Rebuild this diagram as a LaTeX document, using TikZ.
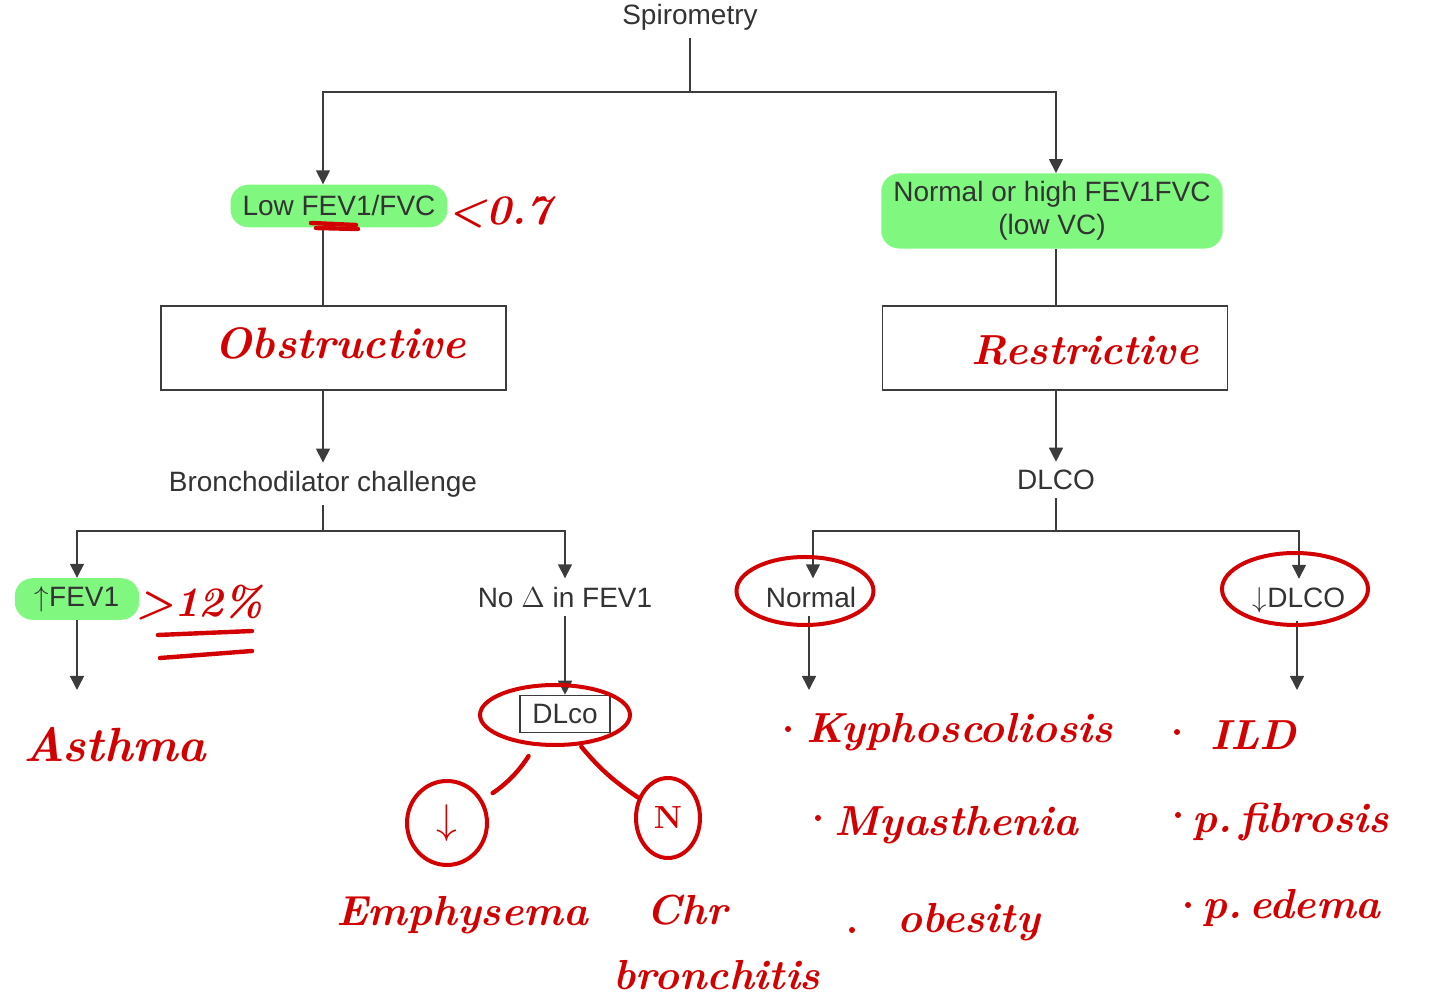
\documentclass[tikz,border=0pt]{standalone}
\usepackage{fontspec}
\usepackage{xcolor}
\usepackage{tikz}
\usetikzlibrary{arrows.meta,shapes.geometric}
\newfontfamily\diagfont{Liberation Sans}
\definecolor{hlgreen}{RGB}{128,248,128}
\definecolor{inkred}{RGB}{210,0,0}
\definecolor{linegray}{RGB}{60,60,60}

\begin{document}
\begin{tikzpicture}[x=0.5pt, y=-0.5pt,
  lbl/.style={font=\diagfont\fontsize{14}{16.5}\selectfont, text=black!80, inner sep=4pt, align=center},
  hl/.style={fill=hlgreen, rounded corners=9pt, inner xsep=6pt},
  ln/.style={draw=linegray, line width=0.8pt},
  arr/.style={ln, -{Triangle[width=7pt,length=7pt]}},
  box/.style={draw=linegray, line width=0.8pt, minimum width=172.5pt, minimum height=42pt},
  ink/.style={text=inkred, font=\bfseries\itshape\fontsize{21}{25}\selectfont, inner sep=0pt},
  ring/.style={draw=inkred, line width=2pt, ellipse, inner sep=0pt},
  stroke/.style={draw=inkred, line width=2.2pt, line cap=round},
  dot/.style={circle, fill=inkred, inner sep=0pt, minimum size=3pt}]
\useasboundingbox (0,0) rectangle (1442,1004);

% printed chart
\node[lbl] (spiro) at (690,17) {Spirometry};
\node[lbl, hl, inner ysep=5.5pt] (low) at (339,206) {Low FEV1/FVC};
\node[lbl, hl] (nh) at (1052,211) {Normal or high FEV1FVC\\(low VC)};
\node[box] (obs) at (333.5,348) {};
\node[box] (res) at (1055,348) {};
\node[lbl] (bron) at (323,484) {Bronchodilator challenge};
\node[lbl] (dlcor) at (1056,480) {DLCO};
\node[lbl, hl, inner xsep=10pt] (fev) at (77,599) {$\uparrow$FEV1};
\node[lbl] (nod) at (565,597) {No $\Delta$ in FEV1};
\node[lbl] (norm) at (811,597) {Normal};
\node[lbl] (ddl) at (1299,600) {$\downarrow$DLCO};
\node[lbl, draw=linegray, line width=0.8pt, minimum width=45pt, minimum height=18.5pt] (dlco) at (565,714) {DLco};

\coordinate (cL) at (323,92);
\coordinate (cR) at (1056,92);
\coordinate (bj) at (323,531);
\coordinate (dj) at (1056,531);
\coordinate (asthtip) at (77,690);
\coordinate (normtip) at (809,690);
\coordinate (ddltip) at (1297,690);

\draw[ln] (spiro) -- (spiro |- cL);
\draw[arr] (spiro |- cL) -| (cL |- low.north);
\draw[arr] (spiro |- cL) -| (cR |- nh.north);
\draw[ln] (cL |- low.south) -- (cL |- obs.north);
\draw[ln] (cR |- nh.south) -- (cR |- res.north);
\draw[arr] (cL |- obs.south) -- (bron);
\draw[arr] (cR |- res.south) -- (dlcor);
\draw[ln] (bron) -- (bj);
\draw[ln] (dlcor) -- (dj);
\draw[arr] (bj) -| (fev);
\draw[arr] (bj) -| (nod);
\draw[arr] (dj) -| ([xshift=1pt]norm.north);
\draw[arr] (dj) -| (ddl);
\draw[arr] (fev) -- (asthtip);
\draw[arr] (nod) -- (dlco);
\draw[arr] ([xshift=-1pt]norm.south) -- (normtip);
\draw[arr] ([xshift=-1pt]ddl.south) -- (ddltip);

% handwritten notes
\node[ink] (lt) at (500,212) {<0.7};
\draw[stroke] (311,223) -- (356,225);
\draw[stroke] (316,228) -- (358,229);
\node[ink, font=\bfseries\itshape\fontsize{22}{26}\selectfont] (obst) at (340,343) {Obstructive};
\node[ink] (rest) at (1085,350) {Restrictive};
\node[ink] (gt) at (200,603) {>12\%};
\draw[stroke] (158,635) -- (252,631);
\draw[stroke] (160,658) -- (252,651);
\node[ink, font=\bfseries\itshape\fontsize{24}{28}\selectfont] (asthma) at (115,745) {Asthma};

\node[ring, minimum width=75pt, minimum height=30pt] (dlcoring) at (555,715) {};
\node[ring, minimum width=68.5pt, minimum height=34pt] (normring) at (805,591) {};
\node[ring, minimum width=73pt, minimum height=36pt] (ddlring) at (1295,589) {};
\node[ring, text=inkred, minimum width=40pt, minimum height=42pt, font=\fontsize{20}{22}\selectfont] (dn) at (447,823) {$\downarrow$};
\node[ring, text=inkred, minimum width=32pt, minimum height=40pt, font=\bfseries\fontsize{16}{18}\selectfont] (nn) at (668,818) {N};
\draw[stroke, shorten <=6pt, shorten >=6pt] (dlcoring) to[bend left=12] (dn);
\draw[stroke, shorten <=1pt] (dlcoring) to[bend right=8] (nn);
\node[ink] (emph) at (462,915) {Emphysema};
\node[ink] (chr) at (687,910) {Chr};
\node[ink] (bronch) at (717,975) {bronchitis};

\node[dot] (d1) at (788,729) {};
\node[ink, anchor=west] (kypho) at (806,732) {Kyphoscoliosis};
\node[dot] (d2) at (818,818) {};
\node[ink, anchor=west] (myas) at (834,825) {Myasthenia};
\node[dot] (d3) at (852,930) {};
\node[ink, anchor=west] (obes) at (897,922) {obesity};
\node[dot] (d4) at (1177,732) {};
\node[ink, anchor=west] (ild) at (1210,735) {ILD};
\node[dot] (d5) at (1178,815) {};
\node[ink, anchor=west] (fib) at (1192,822) {p.\,fibrosis};
\node[dot] (d6) at (1188,905) {};
\node[ink, anchor=west] (edema) at (1202,908) {p.\,edema};
\end{tikzpicture}
\end{document}
